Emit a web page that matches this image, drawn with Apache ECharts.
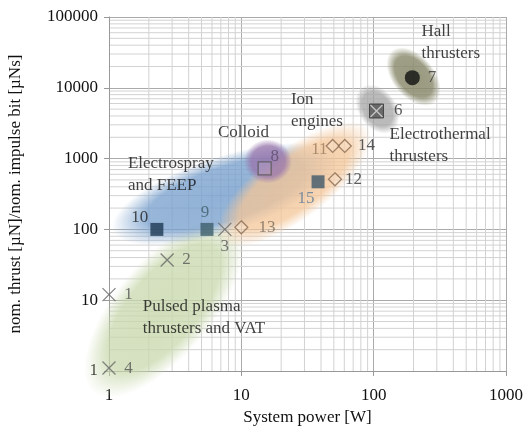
<!DOCTYPE html>
<html>
<head>
<meta charset="utf-8">
<script src="https://cdn.jsdelivr.net/npm/echarts@6/dist/echarts.min.js"></script>
<style>
  html, body { margin: 0; padding: 0; background: #fff; }
  #chart { width: 525px; height: 430px; }
</style>
</head>
<body>
<div id="chart"></div>
<script>
// 数据
const xTicks = [1, 10, 100, 1000];
const yTicks = [1, 10, 100, 1000, 10000, 100000];

// 推力器分组区域中心 [功率 W, 推力/冲量]
const regionNames = ['Pulsed plasma', 'Electrospray', 'Ion engines', 'Colloid', 'Electrothermal', 'Hall'];
const regionCenters = [[2.6, 7.8], [7.5, 315], [25, 435], [15.9, 915], [107, 5000], [200, 14400]];

// 各标记点
const crossIds = ['1', '2', '3', '4'];
const crossPts = [[1, 12], [2.75, 37], [7.5, 100], [1, 1.1]];
const filledSqIds = ['10', '9', '15'];
const filledSqPts = [[2.3, 100], [5.5, 100], [38, 470]];
const openSqIds = ['8'];
const openSqPts = [[15, 730]];
const diamondIds = ['11', '12', '13', '14'];
const diamondPts = [[49, 1510], [51, 510], [10, 107], [60.5, 1510]];
const boxXIds = ['6'];
const boxXPts = [[105, 4700]];
const circleIds = ['7'];
const circlePts = [[196, 13900]];

// 区域文字标签
const groupLabels = ['Hall\nthrusters', 'Ion\nengines', 'Electrothermal\nthrusters', 'Colloid',
  'Electrospray\nand FEEP', 'Pulsed plasma\nthrusters and VAT'];
const groupLabelPts = [[230, 43500], [23.7, 4700], [132, 1510], [6.65, 2300], [1.39, 600], [1.8, 5.65]];

// 样式（不属于数据）
const FONT = '"Liberation Serif", "DejaVu Serif", serif';
const regionStyle = [
  { a: 110, b: 48, rot: 50, color: '200,216,172', alpha: 0.8 },
  { a: 118, b: 38, rot: 18, color: '120,160,205', alpha: 0.82 },
  { a: 93, b: 35, rot: 37, color: '244,198,152', alpha: 0.8 },
  { a: 24, b: 22, rot: 0, color: '152,118,172', alpha: 0.82 },
  { a: 27, b: 19, rot: -55, color: '165,165,165', alpha: 0.8 },
  { a: 34, b: 21, rot: -50, color: '135,135,105', alpha: 0.85 }
];
const filledSqColors = ['#1d3852', '#3f5f6b', '#405869'];
const labelStyle = {
  '1': { position: 'right', distance: 8, color: '#555' },
  '2': { position: 'right', distance: 8, color: '#555' },
  '3': { position: 'bottom', distance: 1, color: '#555' },
  '4': { position: 'right', distance: 8, color: '#555' },
  '6': { position: 'right', distance: 10, color: '#333' },
  '7': { position: 'right', distance: 8, color: '#333' },
  '8': { position: 'top', distance: 0, offset: [10, 4], color: '#5a4a6a' },
  '9': { position: 'top', distance: 2, offset: [-2, 0], color: '#3f5f6b' },
  '10': { position: 'left', distance: 2, offset: [0, -12], color: '#222' },
  '11': { position: 'left', distance: 0, offset: [2, 4], color: '#9a7a5a' },
  '12': { position: 'right', distance: 3, color: '#333' },
  '13': { position: 'right', distance: 10, color: '#7a6a5a' },
  '14': { position: 'right', distance: 6, color: '#333' },
  '15': { position: 'bottom', distance: 0, offset: [-12, 2], color: '#5d7b99' }
};

function withLabels(ids, pts) {
  return pts.map((p, i) => {
    const ls = labelStyle[ids[i]];
    return {
      name: ids[i],
      value: p,
      label: Object.assign({ show: true, formatter: '{b}', fontFamily: FONT, fontSize: 17 }, ls)
    };
  });
}

// 每个十倍程内 2..9 的次刻度值
function minorValues(ticks) {
  const out = [];
  for (let k = 0; k < ticks.length - 1; k++) {
    for (let m = 2; m <= 9; m++) out.push(ticks[k] * m);
  }
  return out;
}

function gridLineSeries(values, vertical) {
  return {
    type: 'custom',
    z: 0,
    silent: true,
    clip: true,
    data: values.map(v => vertical ? [v, 1] : [1, v]),
    renderItem: function (params, api) {
      const cs = params.coordSys;
      const p = api.coord([api.value(0), api.value(1)]);
      const shape = vertical
        ? { x1: p[0], y1: cs.y, x2: p[0], y2: cs.y + cs.height }
        : { x1: cs.x, y1: p[1], x2: cs.x + cs.width, y2: p[1] };
      return {
        type: 'line',
        shape: shape,
        style: { stroke: '#d2d2d2', lineWidth: 1 }
      };
    }
  };
}

const chart = echarts.init(document.getElementById('chart'));

const option = {
  animation: false,
  backgroundColor: '#fff',
  grid: { left: 109, right: 19, top: 17, bottom: 59, containLabel: false, outerBoundsMode: 'none' },
  xAxis: {
    type: 'log',
    logBase: 10,
    min: 1,
    max: 1000,
    name: 'System power [W]',
    nameLocation: 'middle',
    nameGap: 36,
    nameTextStyle: { fontFamily: FONT, fontSize: 17, color: '#111' },
    axisLine: { lineStyle: { color: '#999' } },
    axisTick: { show: true, length: 5, lineStyle: { color: '#999' } },
    axisLabel: { fontFamily: FONT, fontSize: 17, color: '#111', margin: 16,
      formatter: v => String(Math.round(v)) },
    splitLine: { show: true, lineStyle: { color: '#aaa', width: 1 } }
  },
  yAxis: {
    type: 'log',
    logBase: 10,
    min: 1,
    max: 100000,
    name: 'nom. thrust [µN]/nom. impulse bit [µNs]',
    nameLocation: 'middle',
    nameGap: 85,
    nameTextStyle: { fontFamily: FONT, fontSize: 17, color: '#111' },
    axisLine: { show: true, lineStyle: { color: '#999' } },
    axisTick: { show: true, length: 5, lineStyle: { color: '#999' } },
    axisLabel: { fontFamily: FONT, fontSize: 17, color: '#111', margin: 11,
      formatter: v => String(Math.round(v)) },
    splitLine: { show: true, lineStyle: { color: '#aaa', width: 1 } }
  },
  series: [
    gridLineSeries(minorValues(xTicks), true),
    gridLineSeries(minorValues(yTicks), false),
    {
      // 模糊的分组椭圆
      type: 'custom',
      z: 1,
      silent: true,
      data: regionCenters.map((c, i) => ({ name: regionNames[i], value: c })),
      renderItem: function (params, api) {
        const c = api.coord([api.value(0), api.value(1)]);
        const s = regionStyle[params.dataIndex];
        return {
          type: 'circle',
          x: c[0],
          y: c[1],
          scaleX: s.a / s.b,
          rotation: s.rot * Math.PI / 180,
          shape: { cx: 0, cy: 0, r: s.b },
          style: {
            fill: {
              type: 'radial', x: 0.5, y: 0.5, r: 0.5,
              colorStops: [
                { offset: 0, color: 'rgba(' + s.color + ',' + s.alpha + ')' },
                { offset: 0.7, color: 'rgba(' + s.color + ',' + (s.alpha - 0.05) + ')' },
                { offset: 1, color: 'rgba(' + s.color + ',0)' }
              ]
            }
          }
        };
      }
    },
    {
      type: 'scatter', z: 3,
      symbol: 'path://M0,0L10,10M10,0L0,10', symbolSize: 13,
      itemStyle: { color: 'transparent', borderColor: '#666', borderWidth: 1.3 },
      data: withLabels(crossIds, crossPts)
    },
    {
      type: 'scatter', z: 3,
      symbol: 'rect', symbolSize: 13,
      data: withLabels(filledSqIds, filledSqPts).map((d, i) =>
        Object.assign(d, { itemStyle: { color: filledSqColors[i] } }))
    },
    {
      type: 'scatter', z: 3,
      symbol: 'rect', symbolSize: 13,
      itemStyle: { color: 'rgba(255,255,255,0.15)', borderColor: '#555', borderWidth: 1.3 },
      data: withLabels(openSqIds, openSqPts)
    },
    {
      type: 'scatter', z: 3,
      symbol: 'diamond', symbolSize: 13,
      itemStyle: { color: 'rgba(255,255,255,0.2)', borderColor: '#8a6a50', borderWidth: 1.3 },
      data: withLabels(diamondIds, diamondPts)
    },
    {
      type: 'scatter', z: 3,
      symbol: 'rect', symbolSize: 14,
      itemStyle: { color: '#555', borderColor: '#333', borderWidth: 1 },
      data: withLabels(boxXIds, boxXPts)
    },
    {
      type: 'scatter', z: 4,
      symbol: 'path://M0,0L10,10M10,0L0,10', symbolSize: 12,
      itemStyle: { color: 'transparent', borderColor: '#ddd', borderWidth: 1.3 },
      data: boxXPts
    },
    {
      type: 'scatter', z: 3,
      symbol: 'circle', symbolSize: 15,
      itemStyle: { color: '#111' },
      data: withLabels(circleIds, circlePts)
    },
    {
      // 分组名称
      type: 'scatter', z: 5,
      symbolSize: 0,
      silent: true,
      data: groupLabelPts.map((p, i) => ({ name: groupLabels[i], value: p })),
      label: {
        show: true, position: 'right', distance: 0, align: 'left', verticalAlign: 'middle',
        formatter: '{b}', fontFamily: FONT, fontSize: 17, color: '#111', lineHeight: 22
      }
    }
  ]
};

chart.setOption(option);
</script>
</body>
</html>
